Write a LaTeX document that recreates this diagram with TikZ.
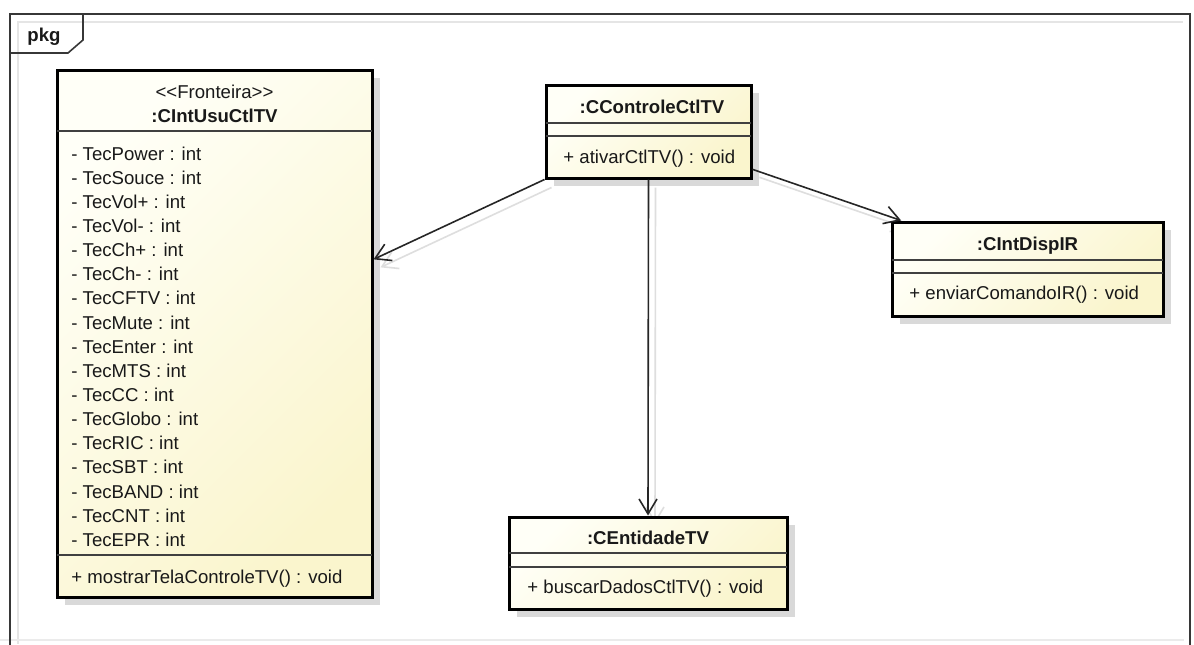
\documentclass[tikz,border=0pt]{standalone}
\usepackage{fontspec}
\setmainfont{Liberation Sans}
\usetikzlibrary{arrows.meta,shadows,backgrounds}
\definecolor{boxlight}{RGB}{255,255,247}
\definecolor{boxdark}{RGB}{250,245,205}
\definecolor{framegray}{RGB}{55,55,55}
\definecolor{txt}{RGB}{25,25,25}
\begin{document}
\begin{tikzpicture}[x=0.5pt,y=-0.5pt,
  classbox/.style={draw=black, line width=1.5pt, inner sep=0pt,
    top color=boxlight, bottom color=boxdark, shading angle=45,
    drop shadow={shadow xshift=4pt, shadow yshift=-4pt, fill=black!15, opacity=1}},
  sepline/.style={draw=black!75, line width=0.8pt},
  lbl/.style={font=\fontsize{9.3}{11}\selectfont, text=txt, inner sep=0pt},
  cname/.style={lbl, font=\fontsize{9.3}{11}\selectfont\bfseries, anchor=base},
  member/.style={lbl, anchor=base west},
  conn/.style={draw=black!85, line width=0.8pt,
    -{Straight Barb[length=7.5pt, width=9pt, line width=0.8pt]}},
  connshadow/.style={conn, draw=black!13}
]
\useasboundingbox (0,0) rectangle (1194,644);

% package frame and its tab
\draw[black!10, line width=0.8pt] (18,644) -- (18,22) -- (1183,22);
\draw[black!8, line width=0.8pt] (0,640) -- (1184,640);
\draw[framegray, line width=0.9pt] (10,650) -- (10,14) -- (1190,14) -- (1190,650);
\draw[framegray, line width=0.8pt] (10,53) -- (68,53) -- (83,40) -- (83,14);
\node[lbl, font=\fontsize{9.3}{11}\selectfont\bfseries, anchor=base west] (pkg) at (27,41) {pkg};

% class boxes
\node[classbox, minimum width=157.5pt, minimum height=263.5pt] (usu) at (214.5,333.5) {};
\node[classbox, minimum width=102.5pt, minimum height=46.5pt] (ctl) at (648.5,131.5) {};
\node[classbox, minimum width=135.5pt, minimum height=47pt] (ir) at (1027.5,269) {};
\node[classbox, minimum width=139pt, minimum height=46pt] (ent) at (648,563) {};

% compartment separators
\draw[sepline] (57,131) -- (372,131);
\draw[sepline] (57,555) -- (372,555);
\draw[sepline] (546,123) -- (751,123);
\draw[sepline] (546,136) -- (751,136);
\draw[sepline] (892,260) -- (1163,260);
\draw[sepline] (892,273) -- (1163,273);
\draw[sepline] (509,553) -- (787,553);
\draw[sepline] (509,567) -- (787,567);

% :CIntUsuCtlTV
\node[lbl, anchor=base] (ususter) at (214.5,98) {{<}{<}Fronteira{>}{>}};
\node[cname] (usuname) at (214.5,122) {:CIntUsuCtlTV};
\foreach \t [count=\i from 0] in {TecPower,TecSouce,TecVol+,TecVol-,TecCh+,TecCh-,TecCFTV,TecMute,TecEnter,TecMTS,TecCC,TecGlobo,TecRIC,TecSBT,TecBAND,TecCNT,TecEPR}
  \node[member] (attr\i) at (71,{160+24.15*\i}) {- \t\ : int};
\node[member] (usuop) at (71,583) {+ mostrarTelaControleTV() : void};

% :CControleCtlTV
\node[cname] (ctlname) at (652,113) {:CControleCtlTV};
\node[member] (ctlop) at (563,163) {+ ativarCtlTV() : void};

% :CIntDispIR
\node[cname] (irname) at (1027.5,250) {:CIntDispIR};
\node[member] (irop) at (909,299) {+ enviarComandoIR() : void};

% :CEntidadeTV
\node[cname] (entname) at (648,544) {:CEntidadeTV};
\node[member] (entop) at (527,593) {+ buscarDadosCtlTV() : void};

% white page and faint shadows of the associations, below everything
\begin{pgfonlayer}{background}
\fill[white] (0,0) rectangle (1194,644);
\begin{scope}[transform canvas={shift={(3.5pt,-4pt)}}]
  \draw[connshadow] (ctl.south west) -- (usu.25.6);
  \draw[connshadow] (ctl.-20) -- (ir.159.8);
  \draw[connshadow] (ctl.south) -- (ent.north);
\end{scope}
\end{pgfonlayer}

% associations
\draw[conn] (ctl.south west) -- (usu.25.6);
\draw[conn] (ctl.-20) -- (ir.159.8);
\draw[conn] (ctl.south) -- (ent.north);
\end{tikzpicture}
\end{document}
